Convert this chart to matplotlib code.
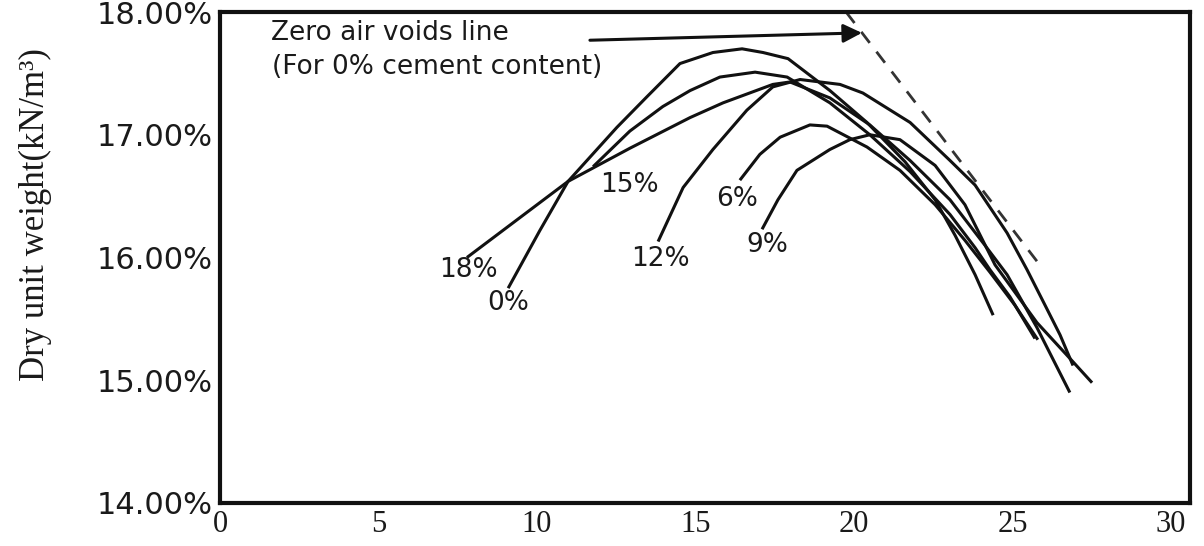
import matplotlib
matplotlib.use("Agg")
import matplotlib.pyplot as plt

# ---- data (moisture content %, dry unit weight) ----
x_0 = [9.09, 10.09, 10.98, 12.52, 13.47, 14.51, 15.55, 16.47, 17.13, 17.92,
       19.24, 20.41, 21.61, 22.56, 23.19, 23.82, 24.39]
y_0 = [15.75, 16.22, 16.62, 17.06, 17.31, 17.58, 17.67, 17.70, 17.67, 17.62,
       17.36, 17.10, 16.78, 16.47, 16.18, 15.86, 15.53]

x_18 = [7.79, 10.98, 12.93, 14.83, 15.87, 17.44, 17.98, 19.24, 20.50, 21.77,
        23.03, 24.13, 24.83, 25.77, 26.81]
y_18 = [16.00, 16.62, 16.89, 17.14, 17.26, 17.41, 17.43, 17.30, 17.08, 16.79,
        16.47, 16.10, 15.86, 15.43, 14.90]

x_15 = [11.77, 12.93, 13.97, 14.83, 15.77, 16.88, 17.89, 19.24, 20.50, 21.77,
        23.03, 23.82, 24.29, 24.92, 25.71]
y_15 = [16.74, 17.03, 17.23, 17.36, 17.47, 17.51, 17.47, 17.26, 17.00, 16.70,
        16.35, 16.08, 15.90, 15.68, 15.34]

x_12 = [13.82, 14.61, 15.55, 16.62, 17.44, 18.30, 19.56, 20.28, 21.77, 23.03,
        23.82, 24.83, 25.46, 26.03, 26.50, 26.91]
y_12 = [16.13, 16.57, 16.88, 17.20, 17.39, 17.45, 17.41, 17.34, 17.10, 16.79,
        16.59, 16.20, 15.90, 15.61, 15.37, 15.12]

x_6 = [16.40, 17.03, 17.67, 18.61, 19.15, 20.41, 21.45, 22.56, 23.50, 24.29,
       25.08, 25.80]
y_6 = [16.63, 16.84, 16.98, 17.08, 17.07, 16.90, 16.71, 16.43, 16.14, 15.88,
       15.61, 15.33]

x_9 = [17.10, 17.60, 18.20, 19.24, 19.87, 20.50, 21.45, 22.56, 23.50, 24.45,
       25.77, 26.91, 27.51]
y_9 = [16.23, 16.47, 16.71, 16.88, 16.96, 17.00, 16.96, 16.75, 16.43, 15.94,
       15.47, 15.15, 14.98]

zav_x = [19.75, 25.80]
zav_y = [18.00, 15.96]

curve_labels = ["18%", "0%", "15%", "12%", "6%", "9%"]
label_x = [7.83, 9.10, 12.93, 13.88, 16.30, 17.25]
label_y = [15.90, 15.63, 16.59, 15.99, 16.48, 16.10]

x_ticks = [0, 5, 10, 15, 20, 25, 30]
y_ticks = [14, 15, 16, 17, 18]
y_tick_labels = ["14.00%", "15.00%", "16.00%", "17.00%", "18.00%"]

# ---- figure ----
fig = plt.figure(figsize=(12.04, 5.46), dpi=100)
ax = fig.add_axes([220 / 1204, 43 / 546, 970 / 1204, 491 / 546])

line_kw = dict(color="#111111", lw=2.2, solid_joinstyle="round",
               solid_capstyle="butt")
for xs, ys in [(x_0, y_0), (x_18, y_18), (x_15, y_15), (x_12, y_12),
               (x_6, y_6), (x_9, y_9)]:
    ax.plot(xs, ys, **line_kw)

ax.plot(zav_x, zav_y, color="#333333", lw=2.0, linestyle=(0, (5, 4)))

for t, lx, ly in zip(curve_labels, label_x, label_y):
    ax.text(lx, ly, t, fontsize=19, family="DejaVu Sans",
            ha="center", va="center", color="#1a1a1a")

ax.text(1.61, 17.83, "Zero air voids line", fontsize=19,
        family="DejaVu Sans", ha="left", va="center", color="#1a1a1a")
ax.text(1.64, 17.55, "(For 0% cement content)", fontsize=19,
        family="DejaVu Sans", ha="left", va="center", color="#1a1a1a")
ax.annotate("", xy=(20.25, 17.83), xytext=(11.67, 17.77),
            arrowprops=dict(arrowstyle="-|>", color="#111111", lw=2.2,
                            mutation_scale=28, shrinkA=0, shrinkB=0))

ax.set_xlim(0, 30.6)
ax.set_ylim(14, 18)
ax.set_xticks(x_ticks)
ax.set_xticklabels([str(v) for v in x_ticks], family="Liberation Serif",
                   fontsize=22)
ax.set_yticks(y_ticks)
ax.set_yticklabels(y_tick_labels, family="DejaVu Sans", fontsize=22)
ax.tick_params(axis="x", length=0, pad=5, colors="#1a1a1a")
ax.tick_params(axis="y", length=0, pad=5, colors="#1a1a1a")

for sp in ax.spines.values():
    sp.set_linewidth(3.0)
    sp.set_color("#111111")

ax.set_ylabel("Dry unit weight(kN/m³)", family="Liberation Serif",
              fontsize=25, color="#1a1a1a")
ax.yaxis.set_label_coords(-0.19, 0.587)
ax.yaxis.label.set_verticalalignment("center")

fig.savefig("out.png", dpi=100)
